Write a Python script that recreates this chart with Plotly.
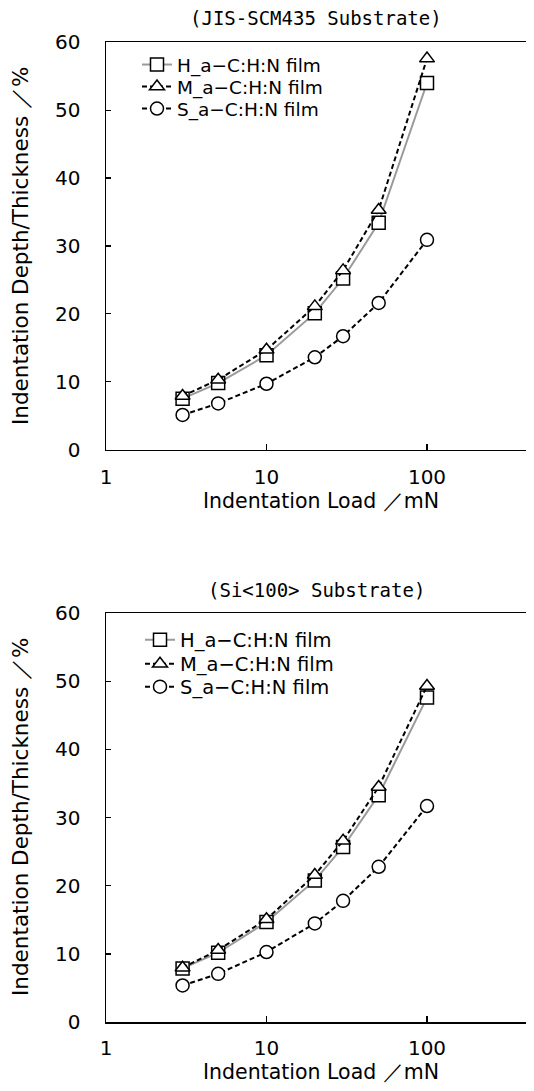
import plotly.graph_objects as go

# ---- data ----
loads = [3, 5, 10, 20, 30, 50, 100]

scm_H = [7.5, 9.8, 13.9, 20.1, 25.2, 33.4, 54.0]
scm_M = [7.9, 10.3, 14.7, 21.1, 26.4, 35.3, 57.6]
scm_S = [5.1, 6.8, 9.7, 13.6, 16.7, 21.6, 30.9]

si_H = [7.9, 10.2, 14.7, 20.8, 25.7, 33.3, 47.6]
si_M = [8.0, 10.6, 15.1, 21.6, 26.6, 34.5, 49.3]
si_S = [5.4, 7.1, 10.3, 14.5, 17.8, 22.8, 31.7]

series_names = ["H_a−C:H:N film", "M_a−C:H:N film", "S_a−C:H:N film"]
titles = ["(JIS-SCM435 Substrate)", "(Si<100> Substrate)"]
x_ticks = [1, 10, 100]
x_tick_text = ["1", "10", "100"]
y_ticks = [0, 10, 20, 30, 40, 50, 60]
x_title = "Indentation Load ／mN"
y_title = "Indentation Depth/Thickness ／%"

# page body has an 8px margin: make the figure fit the window exactly
OFF = 8
FW, FH = 534 - 2 * OFF, 1091 - 2 * OFF
FONT = "DejaVu Sans"

def fx(px):
    return (px - OFF) / FW

def fy(py):
    return 1 - (py - OFF) / FH

styles = [
    dict(symbol="square", line=dict(color="#9a9a9a", width=2, dash="solid")),
    dict(symbol="triangle-up", line=dict(color="black", width=2, dash="5px,3px")),
    dict(symbol="circle", line=dict(color="black", width=2, dash="5px,3px")),
]

# legend row centres (page px) for each panel
leg_rows = [[65, 87, 109], [640, 664, 687]]
leg_left = [137, 140]
leg_size = [18.5, 19.5]

fig = go.Figure()
panels = [
    (dict(H=scm_H, M=scm_M, S=scm_S), "x", "y"),
    (dict(H=si_H, M=si_M, S=si_S), "x2", "y2"),
]
legend_layouts = {}
k = 0
for p, (data, xa, ya) in enumerate(panels):
    for i, (name, key, st) in enumerate(zip(series_names, ["H", "M", "S"], styles)):
        k += 1
        lname = "legend" if k == 1 else f"legend{k}"
        fig.add_trace(go.Scatter(
            x=loads, y=data[key], name=name, mode="lines+markers",
            xaxis=xa, yaxis=ya, legend=lname,
            line=st["line"],
            marker=dict(symbol=st["symbol"], size=13, color="white",
                        line=dict(color="black", width=1.5)),
        ))
        legend_layouts[lname] = dict(
            bgcolor="rgba(0,0,0,0)", borderwidth=0,
            font=dict(family=FONT, size=leg_size[p], color="black"),
            xanchor="left", yanchor="middle",
            x=fx(leg_left[p]), y=fy(leg_rows[p][i]),
        )

x0 = 106
decade = 160.5
x_end = OFF + FW  # right end of the drawn x axis (page px)
xdom = [fx(x0), fx(x_end)]
xmax_log = (x_end - x0) / decade
top_dom = [fy(449.6), fy(42.3)]
bot_dom = [fy(1022.3), fy(613)]

xcommon = dict(type="log", range=[0, xmax_log], domain=xdom,
               tickvals=x_ticks, ticktext=x_tick_text,
               ticks="inside", ticklen=6, tickwidth=1.2, tickcolor="black",
               showline=True, linecolor="black", linewidth=1.5, mirror=True,
               showgrid=False, zeroline=False, automargin=False,
               tickfont=dict(family=FONT, size=20, color="black"))
ycommon = dict(range=[0, 60], tickvals=y_ticks,
               ticks="inside", ticklen=5, tickwidth=1.2, tickcolor="black",
               showline=True, linecolor="black", linewidth=1.5, mirror=False,
               showgrid=False, zeroline=False, automargin=False,
               tickfont=dict(family=FONT, size=20, color="black"),
               ticklabelstandoff=20)

fig.update_layout(
    template="none",
    width=FW, height=FH, margin=dict(l=0, r=0, t=0, b=0, autoexpand=False),
    paper_bgcolor="white", plot_bgcolor="white",
    xaxis=dict(xcommon, anchor="y", ticklabelstandoff=9),
    yaxis=dict(ycommon, domain=top_dom, anchor="x"),
    xaxis2=dict(xcommon, anchor="y2", ticklabelstandoff=7),
    yaxis2=dict(ycommon, domain=bot_dom, anchor="x2"),
    showlegend=True,
    **legend_layouts,
)

annots = []
for title, ty, xty, yty in [(titles[0], 18, 501, 246), (titles[1], 590, 1072, 817)]:
    annots.append(dict(text=title, x=fx(316), y=fy(ty), xref="paper", yref="paper",
                       showarrow=False, xanchor="center", yanchor="middle",
                       font=dict(family="DejaVu Sans Mono", size=19, color="black")))
    annots.append(dict(text=x_title, x=fx(321), y=fy(xty), xref="paper", yref="paper",
                       showarrow=False, xanchor="center", yanchor="middle",
                       font=dict(family=FONT, size=20.5, color="black")))
    annots.append(dict(text=y_title, x=fx(20), y=fy(yty), xref="paper", yref="paper",
                       showarrow=False, xanchor="center", yanchor="middle", textangle=-90,
                       font=dict(family=FONT, size=21.5, color="black")))
fig.update_layout(annotations=annots)

fig.write_html("out.html", config={"staticPlot": True, "displayModeBar": False})
